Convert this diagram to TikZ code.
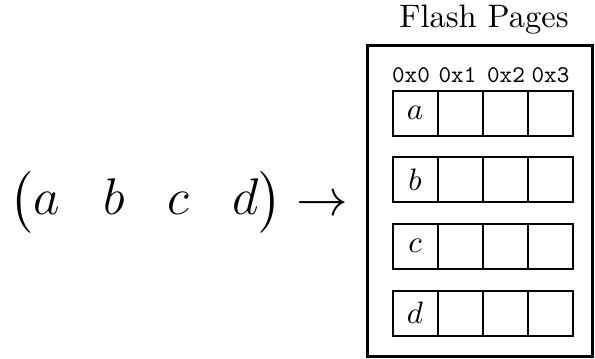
\documentclass[tikz,border=0pt]{standalone}
\usepackage{amsmath}
\begin{document}
\begin{tikzpicture}[x=1pt,y=-1pt,
  cell/.style={draw,line width=2pt,minimum width=45pt,minimum height=45pt,inner sep=0pt},
  lbl/.style={scale=3.1,inner sep=0pt},
  hdr/.style={scale=2.4,font=\ttfamily,inner sep=0pt,anchor=base},
  frame/.style={draw,line width=2.4pt}]
\useasboundingbox (0,0) rectangle (595,359);
\node[scale=3.25,anchor=base,inner sep=0pt] (title) at (484,27) {Flash Pages};
\node[frame,minimum width=225pt,minimum height=311pt,inner sep=0pt] (outer) at (480,201) {};
\node[hdr] (h0) at (411,82.7) {0x0};
\node[hdr] (h1) at (457.5,82.7) {0x1};
\node[hdr] (h2) at (506,82.7) {0x2};
\node[hdr] (h3) at (550.5,82.7) {0x3};
\foreach \r/\y/\l in {1/113/a,2/179.5/b,3/246/c,4/313/d}{
  \node[cell] (r\r c1) at (415,\y) {};
  \node[cell] (r\r c2) at (460.5,\y) {};
  \node[cell] (r\r c3) at (505.5,\y) {};
  \node[cell] (r\r c4) at (550,\y) {};
  \node[lbl] (l\r) at (r\r c1) {$\l$};
}
\node[scale=4.3,anchor=base west,inner sep=0pt,font=\large] (vec) at (9,215) {$\begin{pmatrix} a & b & c & d\end{pmatrix}\rightarrow$};
\end{tikzpicture}
\end{document}
